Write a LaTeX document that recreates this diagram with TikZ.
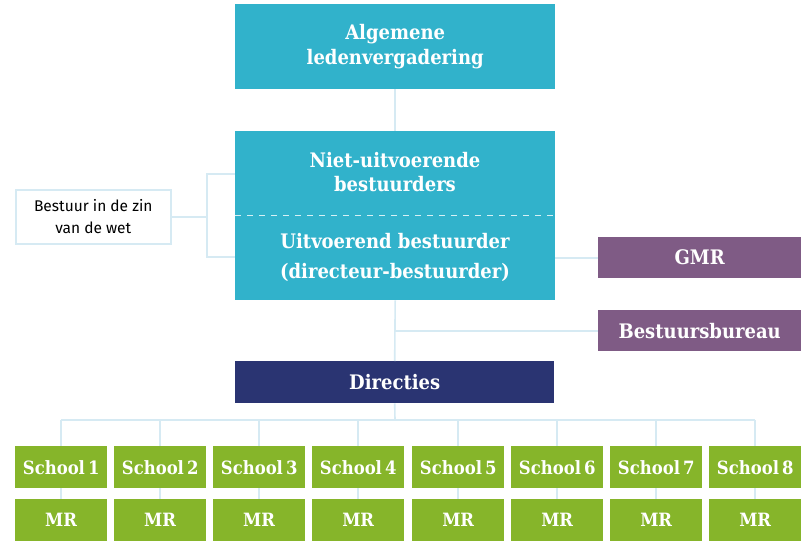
\documentclass[tikz,border=0pt]{standalone}
\usepackage{fontspec}
\setmainfont{DejaVu Serif Condensed}
\newfontfamily\labelsans{Fira Sans}
\definecolor{teal}{HTML}{31B2CB}
\definecolor{plum}{HTML}{7F5B85}
\definecolor{grn}{HTML}{86B52A}
\definecolor{navy}{HTML}{2A3472}
\definecolor{lineblue}{HTML}{D6EAF3}
\begin{document}
\begin{tikzpicture}[x=1pt,y=-1pt,
  box/.style={anchor=north west,inner sep=0pt,text=white,align=center,font=\fontsize{20}{25}\selectfont\bfseries},
  small/.style={font=\fontsize{18.3}{22}\selectfont\bfseries},
  conn/.style={draw=lineblue,line width=1.6pt},
  ]
\useasboundingbox (0,0) rectangle (810,540);
\fill[white] (0,0) rectangle (810,540);
\node[box,fill=teal,minimum width=320pt,minimum height=85pt] (alv) at (235,4) {Algemene\\ledenvergadering};
\node[box,fill=teal,minimum width=320pt,minimum height=169pt] (bestuur) at (235,131) {};
\node[text=white,font=\fontsize{20}{24}\selectfont\bfseries,align=center] (nub) at (395,172) {Niet-uitvoerende\\bestuurders};
\node[text=white,font=\fontsize{20}{30}\selectfont\bfseries,align=center] (ub) at (395,257) {Uitvoerend bestuurder\\(directeur-bestuurder)};
\draw[white!80!teal,line width=1pt,dash pattern=on 6pt off 6pt] (bestuur.west |- 0,215) -- (bestuur.east |- 0,215);
\node[anchor=north west,draw=lineblue,line width=1.6pt,fill=white,minimum width=155pt,minimum height=54pt,inner sep=0pt,align=center,font=\labelsans\fontsize{15.5}{22}\selectfont] (wet) at (15,189) {Bestuur in de zin\\van de wet};
\node[box,fill=plum,minimum width=203pt,minimum height=41pt] (gmr) at (598,237) {GMR};
\node[box,fill=plum,minimum width=203pt,minimum height=41pt] (bb) at (598,310) {Bestuursbureau};
\node[box,fill=navy,minimum width=319pt,minimum height=42pt] (dir) at (235,361) {Directies};
\foreach \i/\x in {1/15,2/114,3/213,4/312,5/412,6/511,7/610,8/709}{
  \node[box,small,fill=grn,minimum width=92pt,minimum height=42pt] (s\i) at (\x,446) {School\,\i};
  \node[box,small,fill=grn,minimum width=92pt,minimum height=42pt] (m\i) at (\x,499) {MR};
}
\coordinate (bt) at (207,174);
\coordinate (bb2) at (207,257);
\coordinate (rail) at (395,420);
\draw[conn] (alv.south) -- (bestuur.north);
\draw[conn] (wet.east) -- (bt |- wet.east);
\draw[conn] (bestuur.west |- bt) -- (bt) -- (bb2) -- (bestuur.west |- bb2);
\draw[conn] (bestuur.east |- gmr.west) -- (gmr.west);
\draw[conn] (bestuur.south) -- (dir.north);
\draw[conn] (bestuur.south |- bb.west) -- (bb.west);
\draw[conn] (dir.south) -- (rail);
\draw[conn] (s1.north |- rail) -- (s8.north |- rail);
\foreach \i in {1,...,8}{
  \draw[conn] (s\i.north |- rail) -- (s\i.north);
  \draw[conn] (s\i.south) -- (m\i.north);
}
\end{tikzpicture}
\end{document}
